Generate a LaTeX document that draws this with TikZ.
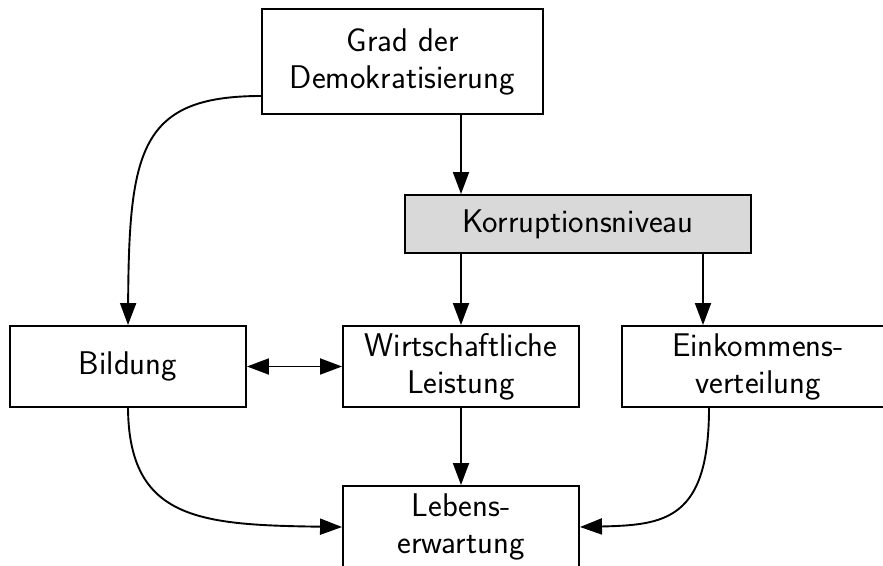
\documentclass[tikz,border=0pt]{standalone}
\usetikzlibrary{arrows.meta}
\begin{document}
\begin{tikzpicture}[x=1pt,y=1pt,
  every node/.style={font=\sffamily\fontsize{32.8}{37}\selectfont, align=center, inner sep=0pt},
  box/.style={draw, line width=1.9pt, minimum height=81pt, minimum width=236pt},
  link/.style={line width=1.9pt, -{Triangle[length=22pt,width=16pt]}},
  both/.style={line width=1.9pt, {Triangle[length=22pt,width=16pt]}-{Triangle[length=22pt,width=16pt]}}]
\useasboundingbox (0,0) rectangle (883,565);

% boxes
\node[box, minimum width=281pt, minimum height=105pt] (demo) at (402.5,503.5) {Grad der\\Demokratisierung};
\node[box, minimum width=346pt, minimum height=58pt, fill=black!15] (korr) at (578,341) {Korruptionsniveau};
\node[box] (bild) at (128,198.5) {Bildung};
\node[box] (wirt) at (461,198.5) {Wirtschaftliche\\Leistung};
\node[box, minimum width=272pt] (eink) at (758,198.5) {Einkommens-\\verteilung};
\node[box, minimum height=82pt] (leb) at (461,38) {Lebens-\\erwartung};

% anchor columns and rows for the connectors
\coordinate (colE) at (703,0);
\coordinate (colEout) at (709,0);
\coordinate (rowD) at (0,469);

% straight connectors
\draw[link] (demo.south -| wirt) -- (korr.north -| wirt);
\draw[link] (korr.south -| wirt) -- (wirt.north);
\draw[link] (korr.south -| colE) -- (eink.north -| colE);
\draw[link] (wirt.south) -- (leb.north);
\draw[both] (bild.east) -- (wirt.west);

% curved connectors
\draw[link] (demo.west |- rowD) .. controls (140,469) and (129,415) .. (bild.north);
\draw[link] (bild.south) .. controls (129,45) and (200,40) .. (leb.west);
\draw[link] (eink.south -| colEout) .. controls (709,45) and (665,40) .. (leb.east);
\end{tikzpicture}
\end{document}
